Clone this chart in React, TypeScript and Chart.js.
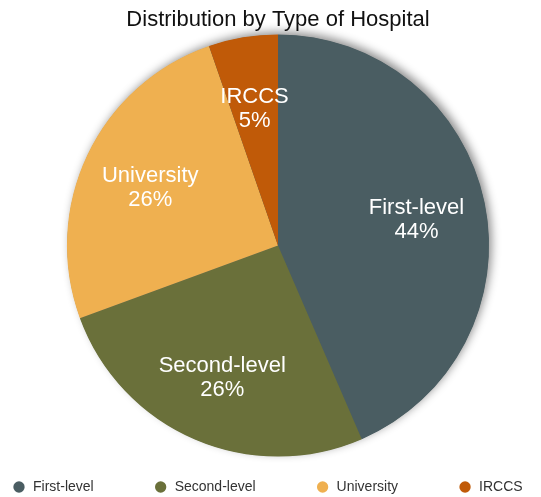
import React, { useEffect, useRef } from "react";
import { Chart, registerables } from "chart.js";

Chart.register(...registerables);

const categories = ["First-level", "Second-level", "University", "IRCCS"];
const shares = [43.5, 25.9, 25.3, 5.3];
const percentLabels = ["44%", "26%", "26%", "5%"];
const sliceColors = ["#4a5d62", "#6a703a", "#efb050", "#c05a08"];
const titleText = "Distribution by Type of Hospital";

const FONT = '"Liberation Sans", Arial, sans-serif';

const pieShadow = {
  id: "pieShadow",
  beforeDatasetsDraw(chart: any) {
    const meta = chart.getDatasetMeta(0);
    if (!meta || !meta.data.length) return;
    const arc = meta.data[0];
    const { x, y, outerRadius } = arc.getProps(["x", "y", "outerRadius"], true);
    const ctx = chart.ctx;
    ctx.save();
    ctx.shadowColor = "rgba(0,0,0,0.45)";
    ctx.shadowBlur = 10;
    ctx.shadowOffsetX = 3;
    ctx.shadowOffsetY = -3;
    ctx.beginPath();
    ctx.arc(x, y, outerRadius - 0.5, 0, Math.PI * 2);
    ctx.fillStyle = sliceColors[0];
    ctx.fill();
    ctx.restore();
  },
};

const sliceLabels = {
  id: "sliceLabels",
  afterDatasetsDraw(chart: any) {
    const meta = chart.getDatasetMeta(0);
    const ctx = chart.ctx;
    ctx.save();
    ctx.font = `22px ${FONT}`;
    ctx.fillStyle = "#ffffff";
    ctx.textAlign = "center";
    ctx.textBaseline = "middle";
    meta.data.forEach((arc: any, i: number) => {
      const { x, y, startAngle, endAngle, outerRadius } = arc.getProps(
        ["x", "y", "startAngle", "endAngle", "outerRadius"],
        true
      );
      const mid = (startAngle + endAngle) / 2;
      const r = outerRadius * 0.67;
      const cx = x + Math.cos(mid) * r;
      const cy = y + Math.sin(mid) * r + 3;
      ctx.fillText(categories[i], cx, cy - 12);
      ctx.fillText(percentLabels[i], cx, cy + 12);
    });
    ctx.restore();
  },
};

export default function App() {
  const canvasRef = useRef<HTMLCanvasElement | null>(null);

  useEffect(() => {
    document.body.style.margin = "0";
    document.body.style.overflow = "hidden";
    const canvas = canvasRef.current;
    if (!canvas) return;
    const chart = new Chart(canvas, {
      type: "pie",
      data: {
        labels: categories,
        datasets: [
          {
            data: shares,
            backgroundColor: sliceColors,
            borderWidth: 0,
          },
        ],
      },
      options: {
        responsive: false,
        animation: false,
        devicePixelRatio: 1,
        layout: { padding: 0 },
        plugins: {
          tooltip: { enabled: false },
          title: {
            display: true,
            text: titleText,
            color: "#111111",
            font: { family: FONT, size: 22, weight: "normal", lineHeight: 1.2 },
            padding: { top: 7, bottom: 1 },
          },
          legend: {
            display: true,
            position: "bottom",
            align: "start",
            title: {
              display: true,
              text: "",
              font: { family: FONT, size: 10, lineHeight: 1 },
              padding: { top: 0, bottom: -46.5 },
            },
            labels: {
              usePointStyle: true,
              pointStyle: "circle",
              boxHeight: 8,
              padding: 60,
              color: "#333333",
              font: { family: FONT, size: 14 },
            },
          },
        },
      },
      plugins: [pieShadow, sliceLabels],
    });
    return () => chart.destroy();
  }, []);

  return (
    <div style={{ position: "fixed", left: -48, top: 0, width: 652, height: 504 }}>
      <canvas ref={canvasRef} width={652} height={504} />
    </div>
  );
}
